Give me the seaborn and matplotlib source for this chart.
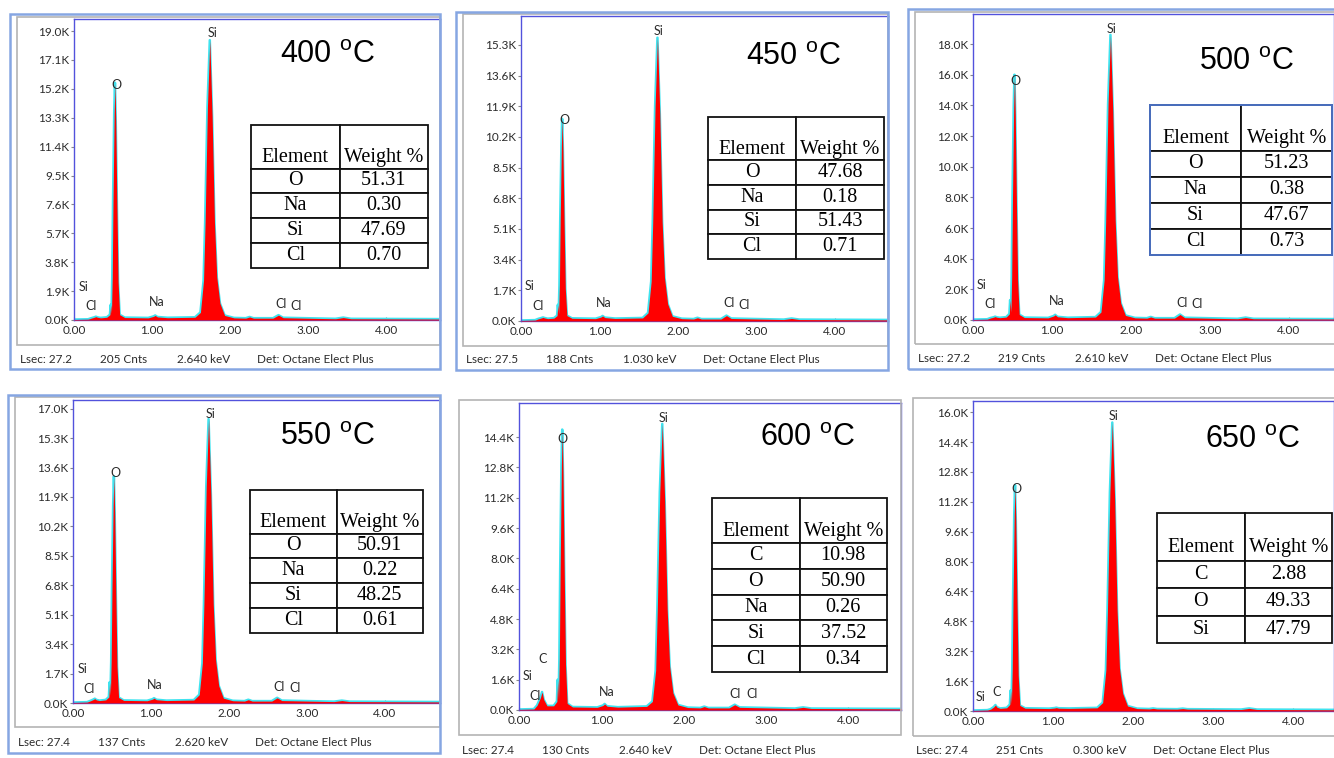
import matplotlib
matplotlib.use("Agg")
import numpy as np
import seaborn as sns
import matplotlib.pyplot as plt
from matplotlib.patches import Rectangle
from matplotlib.ticker import FuncFormatter

W, H = 1334, 758

# ---- data (counts in thousands) ----
energy = [0.00, 0.18, 0.22, 0.26, 0.28, 0.30, 0.34, 0.42,
          0.46, 0.47, 0.48, 0.49, 0.50, 0.515, 0.525, 0.535, 0.55, 0.565, 0.585,
          0.65, 0.95, 1.02, 1.04, 1.07, 1.20, 1.55,
          1.62, 1.66, 1.68, 1.71, 1.74, 1.77, 1.80, 1.83, 1.87, 1.93,
          2.05, 2.20, 2.25, 2.30, 2.55, 2.62, 2.68, 3.35, 3.45, 3.55, 4.70]

counts_400 = [0.03, 0.05, 0.12, 0.18, 0.22, 0.18, 0.14, 0.18,
              0.35, 1.00, 0.45, 2.8, 7.8, 13.6, 15.6, 13.1, 7.5, 2.5, 0.35,
              0.16, 0.14, 0.24, 0.30, 0.20, 0.15, 0.18,
              0.50, 2.6, 6.4, 14.0, 18.4, 13.4, 6.4, 2.8, 1.1, 0.30,
              0.14, 0.12, 0.20, 0.12, 0.12, 0.32, 0.15, 0.08, 0.16, 0.08, 0.06]
counts_450 = [0.03, 0.05, 0.12, 0.17, 0.20, 0.17, 0.13, 0.16,
              0.30, 0.90, 0.40, 2.0, 5.6, 9.7, 11.2, 9.4, 5.4, 1.8, 0.30,
              0.15, 0.13, 0.22, 0.28, 0.19, 0.14, 0.17,
              0.45, 2.2, 5.5, 11.9, 15.7, 11.5, 5.5, 2.4, 0.95, 0.26,
              0.13, 0.11, 0.18, 0.11, 0.11, 0.30, 0.14, 0.08, 0.14, 0.08, 0.06]
counts_500 = [0.03, 0.05, 0.13, 0.18, 0.22, 0.18, 0.15, 0.19,
              0.40, 1.30, 0.50, 2.9, 8.0, 13.9, 16.0, 13.4, 7.7, 2.6, 0.36,
              0.16, 0.14, 0.26, 0.34, 0.21, 0.15, 0.19,
              0.52, 2.6, 6.5, 14.1, 18.6, 13.6, 6.5, 2.8, 1.1, 0.30,
              0.14, 0.12, 0.20, 0.12, 0.12, 0.36, 0.15, 0.08, 0.16, 0.08, 0.06]
counts_550 = [0.03, 0.05, 0.12, 0.20, 0.25, 0.18, 0.14, 0.18,
              0.35, 1.20, 0.45, 2.4, 6.6, 11.4, 13.1, 11.0, 6.3, 2.1, 0.32,
              0.15, 0.13, 0.22, 0.28, 0.19, 0.14, 0.17,
              0.48, 2.3, 5.7, 12.5, 16.4, 12.0, 5.7, 2.5, 1.0, 0.28,
              0.13, 0.11, 0.19, 0.11, 0.11, 0.30, 0.14, 0.08, 0.14, 0.08, 0.06]
counts_600 = [0.03, 0.05, 0.25, 0.65, 0.95, 0.55, 0.22, 0.22,
              0.45, 1.60, 0.55, 2.7, 7.4, 12.9, 14.8, 12.4, 7.1, 2.4, 0.35,
              0.16, 0.14, 0.24, 0.32, 0.20, 0.15, 0.19,
              0.45, 2.1, 5.3, 11.5, 15.1, 11.0, 5.3, 2.3, 0.9, 0.27,
              0.13, 0.11, 0.18, 0.11, 0.11, 0.28, 0.14, 0.08, 0.14, 0.08, 0.06]
counts_650 = [0.03, 0.05, 0.10, 0.22, 0.32, 0.20, 0.14, 0.17,
              0.35, 1.10, 0.40, 2.2, 6.0, 10.5, 12.1, 10.2, 5.8, 1.9, 0.30,
              0.15, 0.13, 0.16, 0.18, 0.15, 0.14, 0.17,
              0.45, 2.2, 5.4, 11.7, 15.45, 11.3, 5.4, 2.3, 0.95, 0.27,
              0.13, 0.11, 0.14, 0.11, 0.10, 0.13, 0.10, 0.08, 0.14, 0.08, 0.06]

temps = ["400", "450", "500", "550", "600", "650"]
spectra = [counts_400, counts_450, counts_500, counts_550, counts_600, counts_650]

elements = [["O", "Na", "Si", "Cl"], ["O", "Na", "Si", "Cl"], ["O", "Na", "Si", "Cl"],
            ["O", "Na", "Si", "Cl"], ["C", "O", "Na", "Si", "Cl"], ["C", "O", "Si"]]
weights = [["51.31", "0.30", "47.69", "0.70"],
           ["47.68", "0.18", "51.43", "0.71"],
           ["51.23", "0.38", "47.67", "0.73"],
           ["50.91", "0.22", "48.25", "0.61"],
           ["10.98", "50.90", "0.26", "37.52", "0.34"],
           ["2.88", "49.33", "47.79"]]

peak_names = [["Si", "O", "Si", "Cl", "Na", "Cl", "Cl"],
              ["Si", "O", "Si", "Cl", "Na", "Cl", "Cl"],
              ["Si", "O", "Si", "Cl", "Na", "Cl", "Cl"],
              ["Si", "O", "Si", "Cl", "Na", "Cl", "Cl"],
              ["Si", "O", "Si", "C", "Cl", "Na", "Cl", "Cl"],
              ["Si", "O", "Si", "C"]]

ytick_top = [19.0, 15.3, 18.0, 17.0, 14.4, 16.0]
ytick_count = [11, 10, 10, 11, 10, 11]
xticks = [0, 1, 2, 3, 4]

lsec = ["27.2", "27.5", "27.2", "27.4", "27.4", "27.4"]
cnts = ["205", "188", "219", "137", "130", "251"]
kev = ["2.640", "1.030", "2.610", "2.620", "2.640", "0.300"]
detector = "Det: Octane Elect Plus"

# ---- layout in pixels (x0, y0, x1, y1), top-left origin ----
layout = [
    dict(plot=(74, 19, 440, 320), xmax=4.69, ymax=19.79, gray=(17, 17, 440, 345),
         blue=(10, 14, 440, 369), title=(328, 55), table=(251, 125, 428, 268), footer=(17, 359),
         labels=[(1.77, 18.87), (0.55, 15.45), (0.12, 2.2), (0.22, 0.92), (1.06, 1.18),
                 (2.65, 1.05), (2.85, 0.95)]),
    dict(plot=(521, 16, 888, 321), xmax=4.68, ymax=16.9, gray=(463, 14, 888, 346),
         blue=(456, 12, 888, 370), title=(794, 57), table=(708, 117, 884, 259), footer=(463, 359),
         labels=[(1.76, 16.07), (0.55, 11.14), (0.11, 1.94), (0.22, 0.83), (1.06, 1.0),
                 (2.65, 1.0), (2.84, 0.89)]),
    dict(plot=(973, 14, 1334, 320), xmax=4.57, ymax=19.96, gray=(915, 12, 1345, 344),
         blue=(908, 9, 1345, 369), title=(1247, 62), table=(1150, 105, 1332, 255), footer=(915, 358),
         labels=[(1.76, 18.98), (0.54, 15.6), (0.11, 2.28), (0.21, 1.04), (1.06, 1.24),
                 (2.65, 1.1), (2.84, 1.04)]),
    dict(plot=(73, 400, 440, 703), xmax=4.71, ymax=17.5, gray=(15, 397, 440, 727),
         blue=(8, 395, 440, 753), title=(328, 437), table=(250, 490, 423, 633), footer=(15, 742),
         labels=[(1.77, 16.7), (0.54, 13.3), (0.12, 1.97), (0.21, 0.81), (1.05, 1.04),
                 (2.64, 0.93), (2.85, 0.87)]),
    dict(plot=(519, 403, 901, 710), xmax=4.64, ymax=16.2, gray=(459, 400, 901, 735),
         blue=None, title=(808, 438), table=(712, 498, 887, 672), footer=(459, 750),
         labels=[(1.75, 15.4), (0.53, 14.3), (0.11, 1.8), (0.29, 2.7), (0.19, 0.74),
                 (1.06, 0.95), (2.63, 0.84), (2.83, 0.84)]),
    dict(plot=(973, 401, 1334, 711), xmax=4.51, ymax=16.6, gray=(913, 398, 1345, 736),
         blue=None, title=(1253, 440), table=(1157, 513, 1332, 643), footer=(913, 750),
         labels=[(1.75, 15.8), (0.54, 11.9), (0.10, 0.75), (0.29, 1.0)]),
]

sns.set_theme(style="white")
plt.rcParams["font.family"] = ["Lato", "DejaVu Sans"]
plt.rcParams["mathtext.fontset"] = "custom"
plt.rcParams["mathtext.rm"] = "Liberation Sans"

RED = "#ff0000"
CYAN = "#3fe3ef"
SPINE = "#5252dc"
FRAME_BLUE = "#86a6e2"
FRAME_GRAY = "#b4b4b4"
TXT = "#2b2b2b"


def fig_rect(box):
    x0, y0, x1, y1 = box
    return [x0 / W, 1 - y1 / H, (x1 - x0) / W, (y1 - y0) / H]


fig = plt.figure(figsize=(W / 100, H / 100), dpi=100)
fig.patch.set_facecolor("white")

for i, lay in enumerate(layout):
    # panel frames
    for box, col, lw in [(lay["gray"], FRAME_GRAY, 1.2), (lay["blue"], FRAME_BLUE, 1.8)]:
        if box is None:
            continue
        r = fig_rect(box)
        fig.add_artist(Rectangle((r[0], r[1]), r[2], r[3], transform=fig.transFigure,
                                 fill=False, edgecolor=col, linewidth=lw, zorder=5))

    ax = fig.add_axes(fig_rect(lay["plot"]))
    ax.set_facecolor("white")
    sns.lineplot(x=energy, y=spectra[i], ax=ax, color=CYAN, linewidth=1.8, zorder=2)
    ax.fill_between(energy, spectra[i], 0, color=RED, linewidth=0, zorder=3)

    ax.set_xlim(0, lay["xmax"])
    ax.set_ylim(0, lay["ymax"])
    ax.set_xticks(xticks)
    ax.set_yticks(np.linspace(0, ytick_top[i], ytick_count[i]))
    ax.xaxis.set_major_formatter(FuncFormatter(lambda v, p: f"{v:.2f}"))
    ax.yaxis.set_major_formatter(FuncFormatter(lambda v, p: f"{v:.1f}K"))
    ax.tick_params(axis="y", left=True, length=2.5, width=0.8, pad=1,
                   labelsize=8.5, colors="#888888", labelcolor=TXT, direction="out")
    ax.tick_params(axis="x", bottom=True, length=2.5, width=0.8, pad=3.5,
                   labelsize=8.5, colors="#888888", labelcolor=TXT, direction="in")
    ax.set_xlabel("")
    ax.set_ylabel("")
    for s in ax.spines.values():
        s.set_color(SPINE)
        s.set_linewidth(1.0)

    for name, (px, py) in zip(peak_names[i], lay["labels"]):
        ax.text(px, py, name, ha="center", va="center", fontsize=9, color=TXT, zorder=6)

    # title
    tx, ty = lay["title"]
    fig.text(tx / W, 1 - ty / H, temps[i] + r" $^{\rm o}$C", ha="center", va="center",
             fontsize=22, family="Liberation Sans", color="black")

    # composition table
    tax = fig.add_axes(fig_rect(lay["table"]))
    tax.axis("off")
    cell_rows = [["\nElement", "\nWeight %"]] + [[e, w] for e, w in zip(elements[i], weights[i])]
    tab = tax.table(cellText=cell_rows, bbox=[0, 0, 1, 1], cellLoc="center")
    tab.auto_set_font_size(False)
    for (r, c), cell in tab.get_celld().items():
        cell.set_height(1.75 if r == 0 else 1.0)
        cell.set_edgecolor("#111111")
        cell.set_linewidth(1.3)
        cell.set_facecolor("white")
        cell.get_text().set_fontsize(14.5)
        cell.get_text().set_family("Liberation Serif")
        cell.get_text().set_color("black")
    if i == 2:
        r = fig_rect(lay["table"])
        fig.add_artist(Rectangle((r[0], r[1]), r[2], r[3], transform=fig.transFigure,
                                 fill=False, edgecolor="#4a6fc0", linewidth=1.4, zorder=6))

    # status footer
    fx, fy = lay["footer"]
    for off, txt in zip([3, 83, 160, 240],
                        ["Lsec: " + lsec[i], cnts[i] + " Cnts", kev[i] + " keV", detector]):
        fig.text((fx + off) / W, 1 - fy / H, txt, ha="left", va="center",
                 fontsize=8.5, color=TXT)

fig.savefig("out.png", dpi=100, facecolor="white")
